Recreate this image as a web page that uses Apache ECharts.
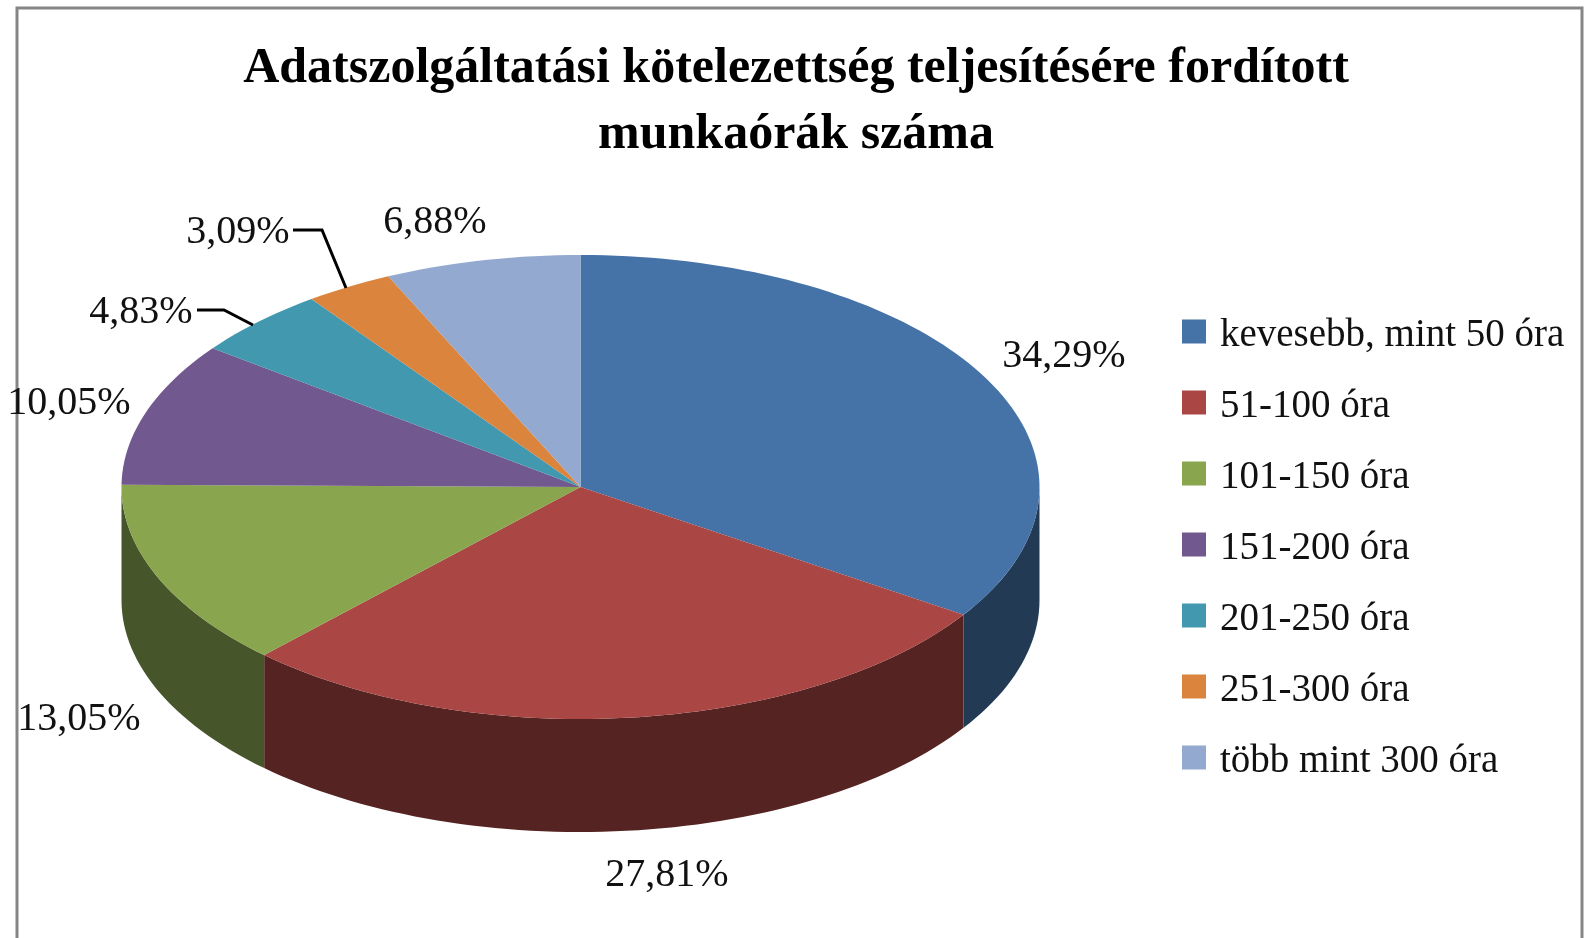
<!DOCTYPE html>
<html>
<head>
<meta charset="utf-8">
<title>Munkaórák</title>
<style>
html, body { margin: 0; padding: 0; background: #fff; }
#main { width: 1585px; height: 938px; }
</style>
<script src="https://cdn.jsdelivr.net/npm/echarts@6/dist/echarts.min.js"></script>
</head>
<body>
<div id="main"></div>
<script>
var titleText = 'Adatszolgáltatási kötelezettség teljesítésére fordított\nmunkaórák száma';
var categories = ['kevesebb, mint 50 óra', '51-100 óra', '101-150 óra', '151-200 óra', '201-250 óra', '251-300 óra', 'több mint 300 óra'];
var shares = [34.29, 27.81, 13.05, 10.05, 4.83, 3.09, 6.88];

var topColors = ['#4572a7', '#aa4643', '#89a54e', '#71588f', '#4198af', '#db843d', '#93a9cf'];
var sideColors = ['#233a55', '#552322', '#47552a', '#3a2d4a', '#214e5a', '#6f431f', '#4b566a'];

// label centres and leader lines, picked by eye
var labelPos = [[1064, 356], [667, 875], [79, 719], [69, 403], [141, 312], [238, 232], [435, 222]];
var leaders = {
  4: [[197, 310], [224, 310], [253, 325]],
  5: [[293, 230], [322, 230], [346, 288]]
};

var cx = 580.5, cy = 487, rx = 459, ry = 232, depth = 113;
var labelFont = '40px "Liberation Serif"';

function pt(deg, dy) {
  var a = deg * Math.PI / 180;
  return [cx + rx * Math.sin(a), cy - ry * Math.cos(a) + (dy || 0)];
}

function arc(from, to, dy) {
  var pts = [];
  var steps = Math.max(2, Math.ceil((to - from) / 1.5));
  for (var i = 0; i <= steps; i++) {
    pts.push(pt(from + (to - from) * i / steps, dy));
  }
  return pts;
}

function makeRender(index) {
  var before = shares.slice(0, index).reduce(function (s, v) { return s + v; }, 0);
  return function (params, api) {
    var value = api.value(0);
    var start = before * 3.6;
    var end = (before + value) * 3.6;
    var children = [];

    // side wall only shows on the front half
    var wallFrom = Math.max(start, 90);
    var wallTo = Math.min(end, 270);
    if (wallTo > wallFrom) {
      children.push({
        type: 'polygon',
        z2: 1,
        shape: { points: arc(wallFrom, wallTo, 0).concat(arc(wallFrom, wallTo, depth).reverse()) },
        style: { fill: sideColors[index] }
      });
    }

    children.push({
      type: 'polygon',
      z2: 2,
      shape: { points: [[cx, cy]].concat(arc(start, end, 0)) },
      style: { fill: api.visual('color') }
    });

    if (leaders[index]) {
      children.push({
        type: 'polyline',
        z2: 3,
        shape: { points: leaders[index] },
        style: { stroke: '#000', lineWidth: 3, fill: null }
      });
    }

    children.push({
      type: 'text',
      z2: 4,
      style: {
        text: value.toFixed(2).replace('.', ',') + '%',
        x: labelPos[index][0],
        y: labelPos[index][1],
        align: 'center',
        verticalAlign: 'middle',
        font: labelFont,
        fill: '#111'
      }
    });

    return { type: 'group', children: children };
  };
}

var chart = echarts.init(document.getElementById('main'));
chart.setOption({
  animation: false,
  backgroundColor: '#fff',
  color: topColors,
  title: {
    text: titleText,
    left: 796,
    top: 36,
    textAlign: 'center',
    padding: 0,
    textStyle: {
      fontFamily: 'Liberation Serif',
      fontWeight: 'bold',
      fontSize: 50,
      lineHeight: 66,
      color: '#000'
    }
  },
  legend: {
    orient: 'vertical',
    left: 1182,
    top: 308,
    padding: 0,
    icon: 'rect',
    itemWidth: 24,
    itemHeight: 24,
    itemGap: 24,
    data: categories,
    formatter: '{t|{name}}',
    textStyle: {
      rich: {
        t: {
          fontFamily: 'Liberation Serif',
          fontSize: 39,
          lineHeight: 39,
          color: '#111',
          padding: [8, 0, 0, 9]
        }
      }
    }
  },
  graphic: [{
    type: 'rect',
    silent: true,
    z: -1,
    shape: { x: 17, y: 8, width: 1565, height: 960 },
    style: { fill: '#fff', stroke: '#868686', lineWidth: 3 }
  }],
  series: categories.map(function (name, i) {
    return {
      type: 'custom',
      name: name,
      coordinateSystem: 'none',
      renderItem: makeRender(i),
      data: [[shares[i]]]
    };
  })
});
window.addEventListener('resize', function () { chart.resize(); });
</script>
</body>
</html>
